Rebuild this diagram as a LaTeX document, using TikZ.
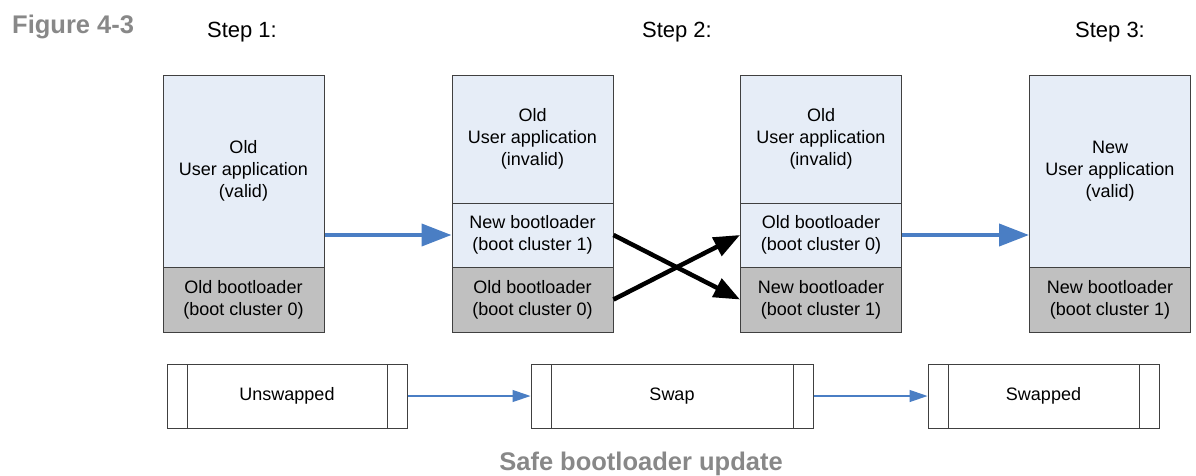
\documentclass[tikz,border=0pt]{standalone}
\usepackage{fontspec}
\setmainfont{Liberation Sans}
\usetikzlibrary{arrows.meta}
\definecolor{segblue}{HTML}{E6EDF7}
\definecolor{seggray}{HTML}{C0C0C0}
\definecolor{edgegray}{HTML}{404040}
\definecolor{arrblue}{HTML}{4A7EC4}
\definecolor{capgray}{HTML}{888888}
\tikzset{
  seg/.style={draw=edgegray, line width=1pt, minimum width=161pt, inner sep=0pt,
    align=center, font=\fontsize{18}{22}\selectfont},
  upper/.style={seg, fill=segblue},
  lower/.style={seg, fill=seggray},
  procbox/.style={draw=edgegray, line width=1pt, minimum height=64pt, inner sep=0pt,
    font=\fontsize{18}{22}\selectfont,
    path picture={
      \draw[edgegray, line width=1pt]
        ([xshift=20pt]path picture bounding box.north west) -- ([xshift=20pt]path picture bounding box.south west)
        ([xshift=-20pt]path picture bounding box.north east) -- ([xshift=-20pt]path picture bounding box.south east);
    }},
  bigblue/.style={draw=arrblue, line width=4pt, -{Triangle[length=30pt,width=22pt]}},
  bigblack/.style={draw=black, line width=4.5pt, -{Triangle[length=26pt,width=20pt]}},
  thinblue/.style={draw=arrblue, line width=1.2pt, -{Triangle[length=18pt,width=12pt]}},
  steplabel/.style={anchor=base, inner sep=0pt, font=\fontsize{22}{26}\selectfont},
  caption/.style={inner sep=0pt, text=capgray, font=\fontsize{25.5}{30}\selectfont\bfseries}
}
\begin{document}
\begin{tikzpicture}[x=1pt,y=-1pt]
\useasboundingbox (0,0) rectangle (1196,475);

% captions
\node[caption, anchor=base west] (fig) at (12,33) {Figure 4-3};
\node[caption, anchor=base] (title) at (641,470) {Safe bootloader update};

% step labels
\node[steplabel] (s1) at (242,37) {Step 1:};
\node[steplabel] (s2) at (677,37) {Step 2:};
\node[steplabel] (s3) at (1110,37) {Step 3:};

% Box 1
\node[upper, minimum height=192pt] (a1) at (243.5,171) {Old\\User application\\(valid)};
\node[lower, minimum height=65pt] (a2) at (243.5,299.5) {Old bootloader\\(boot cluster 0)};

% Box 2
\node[upper, minimum height=128pt] (b1) at (532.5,139) {Old\\User application\\(invalid)};
\node[upper, minimum height=64pt] (b2) at (532.5,235) {New bootloader\\(boot cluster 1)};
\node[lower, minimum height=65pt] (b3) at (532.5,299.5) {Old bootloader\\(boot cluster 0)};

% Box 3
\node[upper, minimum height=128pt] (c1) at (821,139) {Old\\User application\\(invalid)};
\node[upper, minimum height=64pt] (c2) at (821,235) {Old bootloader\\(boot cluster 0)};
\node[lower, minimum height=65pt] (c3) at (821,299.5) {New bootloader\\(boot cluster 1)};

% Box 4
\node[upper, minimum height=192pt] (d1) at (1110,171) {New\\User application\\(valid)};
\node[lower, minimum height=65pt] (d2) at (1110,299.5) {New bootloader\\(boot cluster 1)};

% arrows between memory maps
\draw[bigblue] (a1.east |- b2.center) -- (b2.west);
\draw[bigblack] (b2.east) -- (c3.west);
\draw[bigblack] (b3.east) -- (c2.west);
\draw[bigblue] (c2.east) -- (d1.west |- c2.center);

% process boxes
\node[procbox, minimum width=240pt] (u) at (287,396) {Unswapped};
\node[procbox, minimum width=282pt] (sw) at (672,396) {Swap};
\node[procbox, minimum width=231pt] (sd) at (1043.5,396) {Swapped};

\draw[thinblue] (u.east) -- (sw.west);
\draw[thinblue] (sw.east) -- (sd.west);
\end{tikzpicture}
\end{document}
